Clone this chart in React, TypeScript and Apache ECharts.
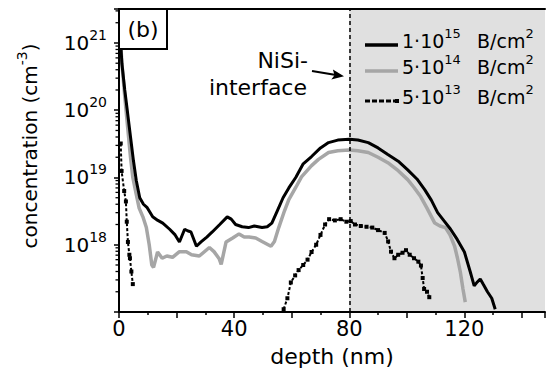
import React, { useEffect, useRef } from 'react';
import * as echarts from 'echarts';

const FONT = '"DejaVu Sans", "Liberation Sans", Arial, sans-serif';

// depth (nm) and concentration (cm^-3) — 1·10^15 B/cm^2
const depthHigh = [0.3, 1, 2, 3, 4, 5, 6, 7.2, 8.5, 9.7, 11.7, 13.5, 15.2, 17.6, 19.5, 21, 22.8, 24, 25, 26.9, 28.5, 30.5, 32.4, 35, 37.6, 39, 40.5, 42.8, 45, 47, 49.7, 51.5, 53.1, 55, 57, 59, 61.4, 64, 66.9, 70, 72.8, 76, 80, 83, 86.6, 90, 93.4, 97, 100.3, 103.5, 106.2, 108.5, 110.7, 113, 115.2, 117.5, 120, 122, 123.4, 124.5, 125.5, 126.5, 128, 129.5, 130.7];
const concHigh = [1.6e21, 5e20, 2e20, 9e19, 4e19, 1.8e19, 9e18, 5e18, 4e18, 3.6e18, 2.6e18, 2.3e18, 2.1e18, 1.7e18, 1.4e18, 1.1e18, 1.7e18, 1.6e18, 1.55e18, 9.5e17, 1.1e18, 1.3e18, 1.55e18, 2e18, 2.6e18, 2.4e18, 2e18, 1.85e18, 1.8e18, 1.9e18, 1.8e18, 1.85e18, 2.1e18, 3.2e18, 5e18, 7e18, 1e19, 1.6e19, 2.05e19, 2.75e19, 3.3e19, 3.6e19, 3.7e19, 3.6e19, 3.3e19, 2.75e19, 2.2e19, 1.75e19, 1.3e19, 9.5e18, 6.6e18, 4.6e18, 3e18, 2.25e18, 1.7e18, 1.2e18, 7.8e17, 4e17, 2.45e17, 2.8e17, 3.1e17, 2.6e17, 2e17, 1.6e17, 1.1e17];

// 5·10^14 B/cm^2
const depthMid = [0.3, 1, 2, 3, 4, 4.8, 6, 7, 8.3, 9.5, 10.5, 11.4, 12, 13.4, 15, 16.6, 18.6, 21, 23.4, 25.2, 27.9, 31.4, 33, 34.8, 35.5, 37.2, 39.5, 41.7, 43.5, 45.2, 47.5, 49.7, 52.8, 54, 55.5, 57.5, 59, 61.4, 63.4, 66.9, 69.3, 72.8, 76, 80, 83, 86.6, 90, 93.4, 97, 100.3, 102.5, 104.8, 107, 109.7, 111.5, 113.4, 115, 116.6, 117.6, 118.6, 119.5, 120.3];
const concMid = [1.6e21, 5e20, 1.6e20, 5.6e19, 2e19, 1e19, 5.6e18, 3.5e18, 2.6e18, 1.8e18, 1e18, 5e17, 4.6e17, 7.8e17, 6.3e17, 6.8e17, 6.5e17, 7.9e17, 7.9e17, 7.1e17, 6.8e17, 9.1e17, 7.9e17, 6.2e17, 5.1e17, 1.1e18, 1.26e18, 1.45e18, 1.3e18, 1.3e18, 1.26e18, 1.12e18, 9.5e17, 1.12e18, 1.8e18, 3.2e18, 4.7e18, 7.1e18, 1.02e19, 1.5e19, 1.86e19, 2.35e19, 2.5e19, 2.57e19, 2.5e19, 2.35e19, 2e19, 1.66e19, 1.26e19, 9.3e18, 7.1e18, 5.2e18, 3.5e18, 2.1e18, 1.9e18, 1.8e18, 1.4e18, 9.5e17, 6.3e17, 3.9e17, 2.2e17, 1.4e17];

// 5·10^13 B/cm^2 (null separates the two measured parts)
const depthLow = [0.6, 0.9, 1.8, 2.4, 2.7, 3.1, 3.6, 3.8, 4.3, 4.8, 30, 57.2, 58.5, 59.7, 61.2, 62.4, 64, 65.5, 66.9, 68.5, 70, 71.6, 73, 75, 77, 79, 80.5, 82, 84, 86, 88, 90, 92.3, 93.5, 94.5, 95.7, 97, 98.5, 99.7, 101, 102.5, 104, 104.9, 105.5, 106, 107, 107.8];
const concLow = [3.2e19, 1.25e19, 6.3e18, 4.4e18, 2.2e18, 1.1e18, 7.1e17, 6.3e17, 4e17, 2.6e17, null, 1.1e17, 1.6e17, 2.75e17, 3.5e17, 4.2e17, 5e17, 6e17, 7.8e17, 1e18, 1.4e18, 2e18, 2.4e18, 2.3e18, 2.4e18, 2.2e18, 2.25e18, 2e18, 1.9e18, 1.85e18, 1.8e18, 1.65e18, 1.5e18, 1.12e18, 7.9e17, 6.3e17, 7.1e17, 7.6e17, 8.3e17, 7.1e17, 6.3e17, 5.6e17, 4.9e17, 3.2e17, 2.2e17, 2e17, 1.66e17];

const yMinorTicks = [2e17, 3e17, 4e17, 5e17, 6e17, 7e17, 8e17, 9e17, 2e18, 3e18, 4e18, 5e18, 6e18, 7e18, 8e18, 9e18, 2e19, 3e19, 4e19, 5e19, 6e19, 7e19, 8e19, 9e19, 2e20, 3e20, 4e20, 5e20, 6e20, 7e20, 8e20, 9e20, 2e21, 3e21];

const xMin = 0;
const xMax = 148;
const yMin = 1e17;
const yMax = 3.2e21;
const interfaceDepth = 80;

const legendNames = ['1·10', '5·10', '5·10'];
const legendExps = ['15', '14', '13'];

const zip = (xs: number[], ys: (number | null)[]) => xs.map((x, i) => [x, ys[i]]);

export default function App() {
  const ref = useRef<HTMLDivElement>(null);
  useEffect(() => {
    if (!ref.current) return;
    const chart = echarts.init(ref.current, null, { renderer: 'svg' });
    const txt = (extra: any) => ({ fill: '#000', fontFamily: FONT, ...extra });
    const supRich = (a: number, b: number, lh: number) => ({
      a: { fontSize: a, fontFamily: FONT, color: '#000', lineHeight: lh },
      b: { fontSize: b, fontFamily: FONT, color: '#000', lineHeight: b, verticalAlign: 'top' },
    });
    const legendY = [45, 71, 101];
    const legendEls: any[] = [];
    legendY.forEach((y, i) => {
      if (i === 0) legendEls.push({ type: 'line', z: 50, shape: { x1: 365, y1: y, x2: 398, y2: y }, style: { stroke: '#000', lineWidth: 3.5 } });
      if (i === 1) legendEls.push({ type: 'line', z: 50, shape: { x1: 365, y1: y, x2: 398, y2: y }, style: { stroke: '#a6a6a6', lineWidth: 3.5 } });
      if (i === 2) {
        legendEls.push({ type: 'line', z: 50, shape: { x1: 365, y1: y, x2: 396, y2: y }, style: { stroke: '#000', lineWidth: 3, lineDash: [5, 2] } });
        legendEls.push({ type: 'rect', z: 50, shape: { x: 395, y: y - 2, width: 4, height: 4 }, style: { fill: '#000' } });
      }
      legendEls.push({
        type: 'text', z: 50, x: 402, y: y - 4,
        style: { text: `{a|${legendNames[i]}}{b|${legendExps[i]}}`, rich: supRich(19, 13, 28), align: 'left', verticalAlign: 'middle', textAlign: 'left', textVerticalAlign: 'middle' },
      });
      legendEls.push({
        type: 'text', z: 50, x: 477, y: y - 4,
        style: { text: '{a|B/cm}{b|2}', rich: supRich(19, 13, 28), align: 'left', verticalAlign: 'middle', textAlign: 'left', textVerticalAlign: 'middle' },
      });
    });

    const option: any = {
      animation: false,
      backgroundColor: '#fff',
      grid: { left: 119, right: 0, top: 9, bottom: 59, containLabel: false },
      xAxis: [
        {
          type: 'value', min: xMin, max: xMax, interval: 20, z: 10,
          name: 'depth (nm)', nameLocation: 'middle', nameGap: 33,
          nameTextStyle: { fontFamily: FONT, fontSize: 22, color: '#000' },
          axisLine: { lineStyle: { color: '#000', width: 2 } },
          axisTick: { show: true, length: 6, lineStyle: { color: '#000', width: 1.5 } },
          minorTick: { show: true, splitNumber: 2, length: 3, lineStyle: { color: '#000', width: 1.5 } },
          axisLabel: {
            margin: 6, fontFamily: FONT, fontSize: 21, color: '#000',
            formatter: (v: number) => (v % 40 === 0 ? String(v) : ''),
          },
          splitLine: { show: false },
        },
        {
          type: 'value', min: xMin, max: xMax, position: 'top', z: 10,
          axisLine: { lineStyle: { color: '#000', width: 2 } },
          axisTick: { show: false }, axisLabel: { show: false }, splitLine: { show: false },
        },
      ],
      yAxis: {
        type: 'log', logBase: 10, min: yMin, max: yMax, z: 10,
        axisLine: { lineStyle: { color: '#000', width: 2 } },
        axisTick: { show: true, length: 5, lineStyle: { color: '#000', width: 1.5 } },
        axisLabel: {
          margin: 12, fontFamily: FONT, color: '#000',
          formatter: (v: number) => {
            const l = Math.log10(v);
            const e = Math.round(l);
            if (Math.abs(l - e) > 1e-6 || e < 18 || e > 21) return '';
            return `{a|10}{b|${e}}`;
          },
          rich: supRich(20, 14, 30),
        },
        splitLine: { show: false },
      },
      series: [
        {
          type: 'line', data: [], z: 1, silent: true,
          markArea: { silent: true, itemStyle: { color: '#e0e0e0' }, data: [[{ xAxis: interfaceDepth }, { xAxis: xMax }]] },
        },
        {
          name: '5·10^14 B/cm2', type: 'line', data: zip(depthMid, concMid), z: 2,
          showSymbol: false, lineStyle: { color: '#a6a6a6', width: 3.5 }, itemStyle: { color: '#a6a6a6' },
        },
        {
          name: '1·10^15 B/cm2', type: 'line', data: zip(depthHigh, concHigh), z: 3,
          showSymbol: false, lineStyle: { color: '#000', width: 3 }, itemStyle: { color: '#000' },
        },
        {
          name: '5·10^13 B/cm2', type: 'line', data: zip(depthLow, concLow), z: 3, connectNulls: false,
          symbol: 'rect', symbolSize: 4, showSymbol: true,
          lineStyle: { color: '#000', width: 2, type: [3, 2] }, itemStyle: { color: '#000' },
        },
        {
          type: 'line', data: [], z: 4, silent: true,
          markLine: {
            silent: true, symbol: ['none', 'none'], label: { show: false },
            lineStyle: { color: '#000', width: 1.5, type: [4, 3] },
            data: [{ xAxis: interfaceDepth }],
          },
        },
        {
          type: 'custom', z: 10, silent: true, clip: false,
          data: yMinorTicks.map((v) => [xMin, v]),
          renderItem: (_p: any, api: any) => {
            const p = api.coord([api.value(0), api.value(1)]);
            return { type: 'line', shape: { x1: p[0] - 3.5, y1: p[1], x2: p[0], y2: p[1] }, style: { stroke: '#000', lineWidth: 1.3 } };
          },
        },
      ],
      graphic: [
        { type: 'rect', z: 100, shape: { x: 119, y: 9, width: 48, height: 40 }, style: { fill: '#fff', stroke: '#000', lineWidth: 2 } },
        { type: 'text', z: 101, x: 143, y: 29, style: txt({ text: '(b)', fontSize: 22, align: 'center', verticalAlign: 'middle', textAlign: 'center', textVerticalAlign: 'middle' }) },
        {
          type: 'text', z: 50, x: 30, y: 146, rotation: Math.PI / 2,
          style: { text: '{a|concentration (cm}{b|-3}{a|)}', rich: supRich(20, 14, 30), align: 'center', verticalAlign: 'middle', textAlign: 'center', textVerticalAlign: 'middle' },
        },
        { type: 'text', z: 50, x: 308, y: 60, style: txt({ text: 'NiSi-', fontSize: 22, align: 'right', verticalAlign: 'middle', textAlign: 'right', textVerticalAlign: 'middle' }) },
        { type: 'text', z: 50, x: 307, y: 87, style: txt({ text: 'interface', fontSize: 22, align: 'right', verticalAlign: 'middle', textAlign: 'right', textVerticalAlign: 'middle' }) },
        { type: 'line', z: 50, shape: { x1: 312, y1: 71, x2: 336, y2: 75 }, style: { stroke: '#000', lineWidth: 2 } },
        { type: 'polygon', z: 50, shape: { points: [[344, 76.3], [331.3, 79.5], [334.5, 75.2], [332.9, 69.6]] }, style: { fill: '#000' } },
        ...legendEls,
      ],
    };
    chart.setOption(option);
    return () => chart.dispose();
  }, []);
  return <div ref={ref} style={{ position: 'fixed', left: 0, top: 0, width: 548, height: 372 }} />;
}
